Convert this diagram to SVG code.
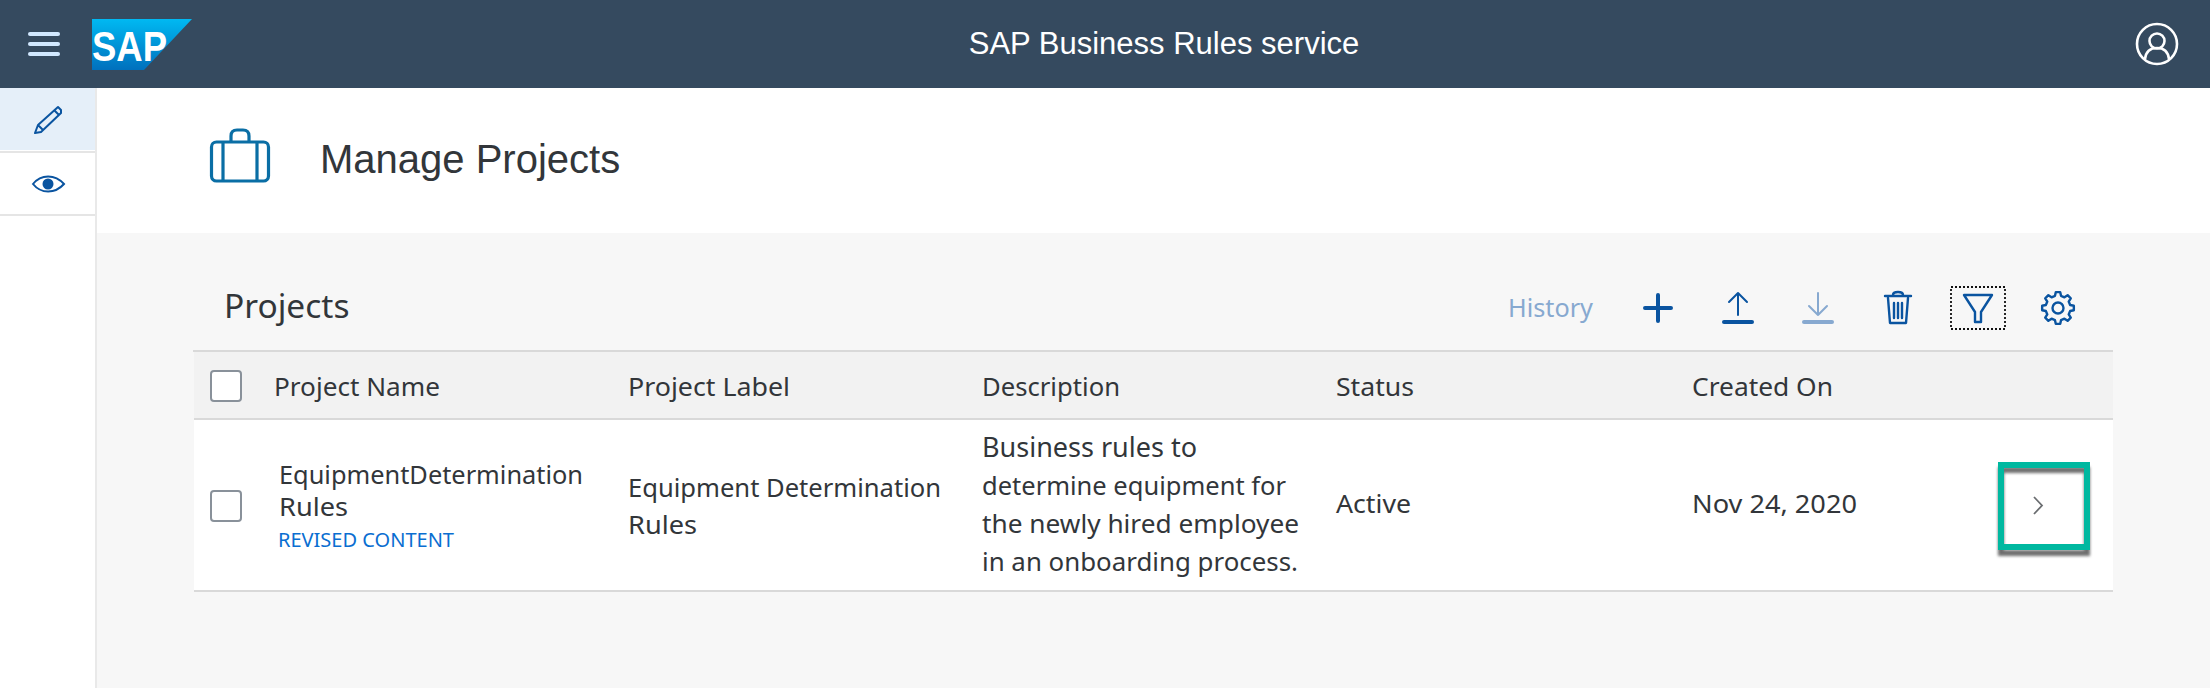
<svg xmlns="http://www.w3.org/2000/svg" width="2210" height="688" viewBox="0 0 2210 688">
<defs>
<linearGradient id="sapg" x1="0" y1="0" x2="0" y2="1"><stop offset="0" stop-color="#00b9f2"/><stop offset="1" stop-color="#0070bd"/></linearGradient>
<filter id="sh" x="-20%" y="-20%" width="140%" height="140%"><feGaussianBlur stdDeviation="1.4"/></filter>
</defs>
<style>
text{font-family:"Noto Sans","Liberation Sans",sans-serif;fill:#32363a}
.cell{font-size:26px}
.ic{fill:none;stroke:#0a54a0;stroke-width:2.4;stroke-linecap:round;stroke-linejoin:round}
.thin{stroke-width:2}
.dim{stroke:#87a9d0}
.cb{fill:#fff;stroke:#89919a;stroke-width:2}
.sep{stroke:#d9d9d9;stroke-width:2}
</style>
<rect width="2210" height="688" fill="#f7f7f7"/>
<g id="shell-header">
<rect x="0" y="0" width="2210" height="88" fill="#354a5f"/>
<g fill="#d1e8ff"><rect x="28" y="32" width="32" height="4" rx="2"/><rect x="28" y="42" width="32" height="4" rx="2"/><rect x="28" y="52" width="32" height="4" rx="2"/></g>
<polygon points="92,19 192,19 144,70 92,70" fill="url(#sapg)"/>
<text x="92" y="60.500" style="font-family:'Liberation Sans',sans-serif;font-size:43px;font-weight:700;fill:#fff" textLength="75" lengthAdjust="spacingAndGlyphs">SAP</text>
<text x="1164" y="54" text-anchor="middle" style="font-family:'Liberation Sans',sans-serif;font-size:31px;fill:#fff">SAP Business Rules service</text>
<g fill="none" stroke="#fff" stroke-width="2.600"><circle cx="2157" cy="44" r="20"/><circle cx="2157" cy="41" r="7.500"/><path d="M2145 59c1-8 6-11 12-11s11 3 12 11"/></g>
</g>
<g id="sidebar">
<rect x="0" y="88" width="95" height="600" fill="#fff"/>
<rect x="95" y="88" width="2" height="600" fill="#e9e9e9"/>
<rect x="0" y="88" width="95" height="62" fill="#e5eff9"/>
<rect x="0" y="151" width="95" height="2" fill="#e5e5e5"/>
<rect x="0" y="214" width="95" height="2" fill="#e5e5e5"/>
<path d="M35 133l3-8 20-18 3 3 0 3-20 19z M38 125l5 5 M54 110l5 5" fill="none" stroke="#0a54a0" stroke-width="2" stroke-linejoin="round"/>
<path d="M33 184c8-10 22-10 31 0c-9 10-23 10-31 0z" fill="none" stroke="#0a54a0" stroke-width="2"/>
<circle cx="48" cy="184" r="5.500" fill="#0a54a0"/>
</g>
<g id="page-header">
<rect x="97" y="88" width="2113" height="145" fill="#fff"/>
<g fill="none" stroke="#0a6ea5" stroke-width="3.200"><rect x="211.500" y="142" width="57" height="39" rx="5"/><path d="M223 142v39M257 142v39M231 142v-6q0-6 6-6h6q6 0 6 6v6"/></g>
<text x="320" y="173" style="font-family:'Liberation Sans',sans-serif;font-size:40px">Manage Projects</text>
</g>
<g id="toolbar">
<text x="224" y="318" style="font-size:33.500px">Projects</text>
<text x="1508" y="317" style="font-size:26px;fill:#87a9d0" textLength="85" lengthAdjust="spacingAndGlyphs">History</text>
<path d="M1658 295v26M1645 308h26" fill="none" stroke="#0a54a0" stroke-width="4" stroke-linecap="round"/>
<path class="ic thin" d="M1738 293v22M1729 302l9-9 9 9"/>
<rect x="1722" y="320" width="32" height="4" rx="2" fill="#0a54a0"/>
<path class="ic thin dim" d="M1818 293v22M1809 306l9 9 9-9"/>
<rect x="1802" y="320" width="32" height="4" rx="2" fill="#87a9d0"/>
<path class="ic" d="M1885 296h26M1893 295q0-3 5-3t5 3M1888 298l2 25h16l2-25M1894 303v15M1898 303v15M1902 303v15"/>
<rect x="1951" y="287" width="54" height="42" fill="none" stroke="#111" stroke-width="1.800" stroke-dasharray="2 2"/>
<path class="ic" d="M1964 295h28l-11 17v10l-6 0v-10z"/>
<g class="ic" transform="translate(2058 308)"><circle r="5.500"/><polygon points="12.13,-3.02 15.84,-2.23 15.84,2.23 12.13,3.02 10.71,6.44 12.78,9.63 9.63,12.78 6.44,10.71 3.02,12.13 2.23,15.84 -2.23,15.84 -3.02,12.13 -6.44,10.71 -9.63,12.78 -12.78,9.63 -10.71,6.44 -12.13,3.02 -15.84,2.23 -15.84,-2.23 -12.13,-3.02 -10.71,-6.44 -12.78,-9.63 -9.63,-12.78 -6.44,-10.71 -3.02,-12.13 -2.23,-15.84 2.23,-15.84 3.02,-12.13 6.44,-10.71 9.63,-12.78 12.78,-9.63 10.71,-6.44"/></g>
</g>
<g id="table">
<rect x="194" y="352" width="1919" height="66" fill="#f2f2f2"/>
<rect x="194" y="420" width="1919" height="170" fill="#fff"/>
<line class="sep" x1="193" y1="351" x2="2113" y2="351"/>
<line class="sep" x1="194" y1="419" x2="2113" y2="419"/>
<line class="sep" x1="194" y1="591" x2="2113" y2="591"/>
<rect class="cb" x="211" y="371" width="30" height="30" rx="3"/>
<rect class="cb" x="211" y="491" width="30" height="30" rx="3"/>
<text class="cell" x="274" y="396" textLength="166" lengthAdjust="spacingAndGlyphs">Project Name</text>
<text class="cell" x="628" y="396" textLength="162" lengthAdjust="spacingAndGlyphs">Project Label</text>
<text class="cell" x="982" y="396" textLength="138" lengthAdjust="spacingAndGlyphs">Description</text>
<text class="cell" x="1336" y="396" textLength="78" lengthAdjust="spacingAndGlyphs">Status</text>
<text class="cell" x="1692" y="396" textLength="141" lengthAdjust="spacingAndGlyphs">Created On</text>
<text class="cell" x="279" y="484" textLength="304" lengthAdjust="spacingAndGlyphs">EquipmentDetermination</text>
<text class="cell" x="279" y="516" textLength="69" lengthAdjust="spacingAndGlyphs">Rules</text>
<text x="278" y="547" style="font-size:20px;fill:#0a6ed1" textLength="176" lengthAdjust="spacingAndGlyphs">REVISED CONTENT</text>
<text class="cell" x="628" y="497" textLength="313" lengthAdjust="spacingAndGlyphs">Equipment Determination</text>
<text class="cell" x="628" y="534" textLength="69" lengthAdjust="spacingAndGlyphs">Rules</text>
<text class="cell" x="982" y="457" style="font-size:27px">Business rules to</text>
<text class="cell" x="982" y="495" textLength="304" lengthAdjust="spacingAndGlyphs">determine equipment for</text>
<text class="cell" x="982" y="533" textLength="317" lengthAdjust="spacingAndGlyphs">the newly hired employee</text>
<text class="cell" x="982" y="571" textLength="316" lengthAdjust="spacingAndGlyphs">in an onboarding process.</text>
<text class="cell" x="1336" y="513" textLength="75" lengthAdjust="spacingAndGlyphs">Active</text>
<text class="cell" x="1692" y="513" textLength="165" lengthAdjust="spacingAndGlyphs">Nov 24, 2020</text>
</g>
<g id="row-navigation">
<rect x="2001" y="470" width="86" height="83" fill="none" stroke="#6e6e6e" stroke-width="6" filter="url(#sh)"/>
<rect x="2001" y="465" width="86" height="82" fill="none" stroke="#00b8a0" stroke-width="6"/>
<path d="M2034 497l8 8.500-8 8.500" fill="none" stroke="#6a6d70" stroke-width="1.800"/>
</g>
</svg>
